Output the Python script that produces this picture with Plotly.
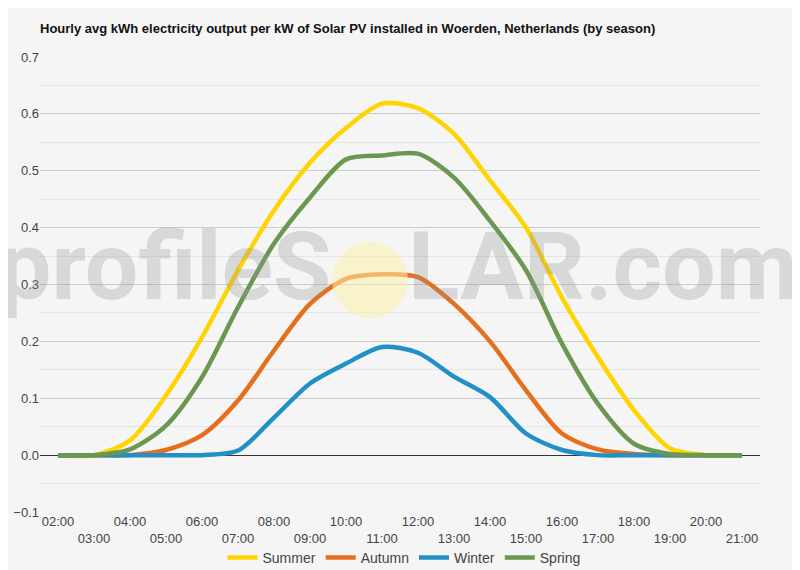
import plotly.graph_objects as go

# hourly average output (kWh per kW installed)
hours = ["02:00", "03:00", "04:00", "05:00", "06:00", "07:00", "08:00", "09:00", "10:00", "11:00",
         "12:00", "13:00", "14:00", "15:00", "16:00", "17:00", "18:00", "19:00", "20:00", "21:00"]

summer = [0.0, 0.0, 0.026, 0.105, 0.207, 0.325, 0.43, 0.514, 0.575, 0.618,
          0.61, 0.565, 0.483, 0.40, 0.277, 0.172, 0.079, 0.012, 0.0, 0.0]
autumn = [0.0, 0.0, 0.0, 0.009, 0.035, 0.096, 0.184, 0.266, 0.31, 0.318,
          0.313, 0.266, 0.2, 0.114, 0.038, 0.01, 0.002, 0.0, 0.0, 0.0]
winter = [0.0, 0.0, 0.0, 0.0, 0.0, 0.008, 0.066, 0.126, 0.161, 0.19,
          0.18, 0.138, 0.102, 0.038, 0.009, 0.0, 0.0, 0.0, 0.0, 0.0]
spring = [0.0, 0.0, 0.01, 0.052, 0.137, 0.26, 0.372, 0.453, 0.52, 0.527,
          0.53, 0.488, 0.412, 0.325, 0.196, 0.09, 0.02, 0.002, 0.0, 0.0]

y_ticks = [-0.1, 0.0, 0.1, 0.2, 0.3, 0.4, 0.5, 0.6, 0.7]

series = [
    ("Summer", summer, "#FFD400"),
    ("Autumn", autumn, "#E66F1E"),
    ("Winter", winter, "#2290C6"),
    ("Spring", spring, "#6A9850"),
]

FONT = "Liberation Sans, Arial, sans-serif"

# page body keeps its 8px default margin, so the figure is 8px smaller
W, H = 792, 562

fig = go.Figure()
for name, vals, color in series:
    fig.add_trace(go.Scatter(
        x=hours, y=vals, name=name, mode="lines",
        line=dict(color=color, width=4.5, shape="spline", smoothing=0.8),
    ))

# two-row x labels like the original (odd hours pushed down a line)
tick_text = [h if i % 2 == 0 else " <br>" + h for i, h in enumerate(hours)]

fig.update_xaxes(
    type="category", tickmode="array", tickvals=hours, ticktext=tick_text,
    range=[-0.5, len(hours) - 0.5], showgrid=False, zeroline=False,
    showline=False, ticks="", automargin=False,
    tickfont=dict(size=13, color="#444", family=FONT),
)
fig.update_yaxes(
    range=[-0.1, 0.7], tickvals=y_ticks, tickformat=".1f",
    showgrid=True, gridcolor="#cccccc", gridwidth=1,
    minor=dict(dtick=0.05, showgrid=True, gridcolor="#e4e4e4", gridwidth=1),
    zeroline=True, zerolinecolor="#333333", zerolinewidth=1,
    tickfont=dict(size=13, color="#444", family=FONT), ticks="", automargin=False,
)

# watermark: profileS(sun)LAR.com
fig.add_shape(type="circle", xref="paper", yref="paper",
              x0=0.4056, x1=0.5111, y0=0.4264, y1=0.5934,
              fillcolor="rgba(252,240,170,0.55)", line=dict(width=0), layer="above")
wm_font = dict(family="Roboto, sans-serif", size=95, color="rgba(150,150,150,0.3)")
fig.add_annotation(text="<b>profileS</b>", xref="paper", yref="paper", x=0.407, y=0.54,
                   xanchor="right", yanchor="middle", showarrow=False, font=wm_font)
fig.add_annotation(text="<b>LAR.com</b>", xref="paper", yref="paper", x=0.509, y=0.54,
                   xanchor="left", yanchor="middle", showarrow=False, font=wm_font)

fig.update_layout(
    width=W, height=H,
    paper_bgcolor="#f5f5f5", plot_bgcolor="#f5f5f5",
    margin=dict(l=32, r=40, t=49, b=58, autoexpand=False),
    title=dict(
        text="<b>Hourly avg kWh electricity output per kW of Solar PV installed in Woerden, Netherlands (by season)</b>",
        x=32 / W, xanchor="left", y=1 - 20 / H, yanchor="middle",
        font=dict(size=13, color="#111", family=FONT),
    ),
    legend=dict(orientation="h", x=0.5, xanchor="center", xref="container",
                y=1 - 550 / H, yanchor="middle", yref="container",
                font=dict(size=14, color="#444", family=FONT),
                itemwidth=30, bgcolor="rgba(0,0,0,0)"),
    showlegend=True,
)

fig.write_html("out.html")
